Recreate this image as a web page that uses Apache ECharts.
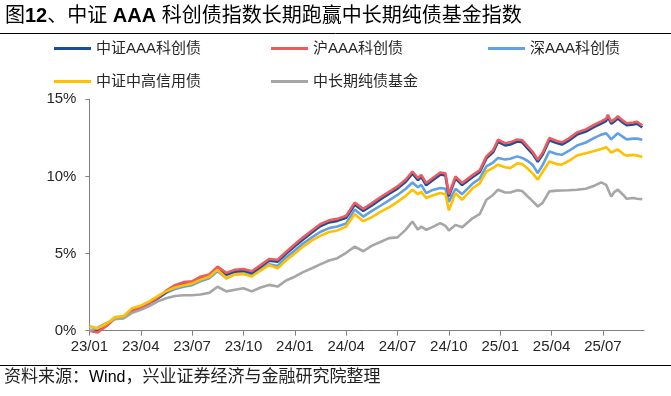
<!DOCTYPE html>
<html><head><meta charset="utf-8">
<script src="https://cdn.jsdelivr.net/npm/echarts@6/dist/echarts.min.js"></script>
<style>html,body{margin:0;padding:0;background:#fff}#c{width:671px;height:396px}</style>
</head><body><div id="c"></div>
<script>
const dates = ['2023-01-01','2023-01-16','2023-02-01','2023-02-15','2023-03-01','2023-03-16','2023-04-01','2023-04-16','2023-05-01','2023-05-16','2023-06-01','2023-06-16','2023-07-01','2023-07-16','2023-08-01','2023-08-16','2023-09-01','2023-09-16','2023-10-01','2023-10-16','2023-11-01','2023-11-16','2023-12-01','2023-12-16','2024-01-01','2024-01-16','2024-02-01','2024-02-15','2024-03-01','2024-03-16','2024-04-01','2024-04-16','2024-05-01','2024-05-16','2024-06-01','2024-06-16','2024-07-01','2024-07-16','2024-07-28','2024-08-07','2024-08-13','2024-08-22','2024-09-01','2024-09-16','2024-09-25','2024-10-01','2024-10-13','2024-10-25','2024-11-13','2024-11-25','2024-12-07','2024-12-19','2024-12-28','2025-01-10','2025-01-19','2025-02-01','2025-02-09','2025-02-18','2025-02-26','2025-03-07','2025-03-16','2025-03-28','2025-04-10','2025-04-19','2025-05-01','2025-05-16','2025-06-01','2025-06-16','2025-06-28','2025-07-07','2025-07-10','2025-07-16','2025-07-22','2025-07-28','2025-08-07','2025-08-13','2025-08-25','2025-09-01','2025-09-10'];
// 沪AAA科创债
const shAAA = [0.00,-0.12,0.30,0.80,0.85,1.30,1.50,1.80,2.15,2.60,2.95,3.15,3.20,3.50,3.65,4.15,3.75,3.95,4.00,3.85,4.25,4.65,4.60,5.10,5.60,6.05,6.50,6.90,7.15,7.25,7.45,8.30,7.90,8.25,8.65,9.00,9.35,9.80,10.32,9.90,10.10,9.57,9.85,10.26,10.20,8.85,10.00,9.57,10.10,10.40,11.30,11.70,12.38,12.15,12.21,12.40,12.35,11.95,11.60,11.08,11.55,12.49,12.30,12.21,12.45,12.85,13.05,13.35,13.57,13.75,14.00,13.55,13.70,13.90,13.60,13.45,13.50,13.55,13.30];
// 中证AAA科创债
const csAAA = [0.02,-0.05,0.35,0.80,0.86,1.30,1.49,1.78,2.10,2.50,2.85,3.05,3.10,3.40,3.55,4.03,3.63,3.83,3.88,3.73,4.13,4.53,4.48,4.98,5.48,5.92,6.37,6.77,7.02,7.12,7.32,8.16,7.76,8.11,8.51,8.86,9.21,9.66,10.18,9.76,9.96,9.43,9.71,10.12,10.06,8.72,9.87,9.44,9.97,10.27,11.17,11.56,12.24,12.01,12.07,12.26,12.21,11.81,11.46,10.95,11.42,12.35,12.16,12.07,12.31,12.71,12.91,13.21,13.43,13.61,13.85,13.42,13.57,13.76,13.47,13.32,13.37,13.42,13.18];
// 深AAA科创债
const szAAA = [0.05,0.05,0.40,0.82,0.90,1.35,1.52,1.82,2.10,2.45,2.70,2.85,2.95,3.20,3.40,3.85,3.40,3.65,3.70,3.55,3.95,4.30,4.20,4.75,5.20,5.65,6.05,6.40,6.65,6.75,6.95,7.85,7.40,7.75,8.10,8.45,8.80,9.20,9.61,9.30,9.45,8.92,9.10,9.25,9.20,8.35,9.20,8.85,9.55,9.85,10.65,10.90,11.20,11.10,11.15,11.30,11.20,11.00,10.75,10.22,10.75,11.62,11.45,11.40,11.65,12.00,12.20,12.50,12.71,12.80,12.82,12.40,12.60,12.80,12.55,12.40,12.45,12.45,12.38];
// 中证中高信用债
const csMidHigh = [0.30,0.15,0.45,0.88,0.95,1.45,1.62,1.90,2.25,2.55,2.80,2.95,3.05,3.30,3.50,3.95,3.40,3.65,3.68,3.52,3.90,4.25,4.05,4.55,5.00,5.45,5.85,6.15,6.40,6.50,6.75,7.55,7.10,7.35,7.70,8.00,8.35,8.75,9.14,8.85,9.00,8.60,8.75,8.92,8.85,7.80,8.92,8.49,9.25,9.55,10.32,10.55,10.76,10.60,10.54,10.85,10.80,10.50,10.20,9.79,10.30,10.97,10.80,10.76,11.00,11.35,11.50,11.65,11.78,11.90,11.91,11.55,11.65,11.75,11.45,11.35,11.40,11.35,11.26];
// 中长期纯债基金
const pureBondFund = [0.00,0.20,0.50,0.75,0.80,1.15,1.35,1.60,1.90,2.10,2.25,2.30,2.30,2.35,2.45,2.85,2.55,2.65,2.75,2.55,2.80,2.97,2.86,3.25,3.50,3.80,4.05,4.30,4.55,4.70,5.05,5.45,5.15,5.50,5.75,6.00,6.05,6.55,7.08,6.55,6.75,6.54,6.70,6.97,6.80,6.50,6.86,6.70,7.30,7.55,8.49,8.80,9.14,8.96,8.96,9.10,9.05,8.70,8.40,8.05,8.30,9.03,9.08,9.09,9.10,9.14,9.20,9.40,9.61,9.45,9.57,8.70,9.00,9.14,8.80,8.55,8.60,8.55,8.53];
const xTickLabels = ['23/01','23/04','23/07','23/10','24/01','24/04','24/07','24/10','25/01','25/04','25/07'];
const seriesNames = ['中证AAA科创债','沪AAA科创债','深AAA科创债','中证中高信用债','中长期纯债基金'];
const seriesColors = ['#1B4F93','#EE5A60','#62A0E4','#FFC000','#A6A6A6'];

function toMonths(s){const p=s.split('-').map(Number);const dim=new Date(p[0],p[1],0).getDate();return (p[0]-2023)*12+(p[1]-1)+(p[2]-1)/dim;}
const xs = dates.map(toMonths);
const pairs = arr => arr.map((v,i)=>[xs[i],v]);

const FONT = '"Liberation Sans", Arial, "Noto Sans CJK SC", sans-serif';
const chart = echarts.init(document.getElementById('c'), null, {renderer:'canvas'});
const valuesByName = {'中证AAA科创债':csAAA,'沪AAA科创债':shAAA,'深AAA科创债':szAAA,'中证中高信用债':csMidHigh,'中长期纯债基金':pureBondFund};
const drawOrder = ['深AAA科创债','中证AAA科创债','沪AAA科创债','中长期纯债基金','中证中高信用债'];
const legendBase = {orient:'vertical', top:41, padding:0, itemGap:18, itemWidth:37, itemHeight:3, icon:'rect', selectedMode:false,
  textStyle:{fontSize:15,color:'#262626',fontFamily:FONT}};
chart.setOption({
  animation:false,
  textStyle:{fontFamily:FONT},
  grid:{left:89.4,right:27,top:99.3,bottom:65.3,containLabel:false},
  legend:[
    Object.assign({left:54,data:['中证AAA科创债','中证中高信用债']},legendBase),
    Object.assign({left:271,data:['沪AAA科创债','中长期纯债基金']},legendBase),
    Object.assign({left:488,data:['深AAA科创债']},legendBase)
  ],
  xAxis:{type:'value',min:0,max:32.4,interval:3,
    axisLine:{lineStyle:{color:'#808080',width:1}},
    axisTick:{show:true,length:5,lineStyle:{color:'#808080'}},
    splitLine:{show:false},
    axisLabel:{margin:9,fontSize:15,color:'#262626',fontFamily:FONT,showMaxLabel:false,
      formatter:v=>{const i=Math.round(v/3);return (Math.abs(v-i*3)<1e-6&&xTickLabels[i])?xTickLabels[i]:'';}}},
  yAxis:{type:'value',min:0,max:15,interval:5,
    axisLine:{show:true,lineStyle:{color:'#808080',width:1}},
    axisTick:{show:true,length:4,lineStyle:{color:'#808080'}},
    splitLine:{show:false},
    axisLabel:{margin:13,fontSize:15,color:'#262626',fontFamily:FONT,formatter:v=>v+'%'}},
  series:drawOrder.map(n=>({name:n,type:'line',data:pairs(valuesByName[n]),showSymbol:false,symbol:'none',clip:false,
    lineStyle:{width:2.6,color:seriesColors[seriesNames.indexOf(n)]},itemStyle:{color:seriesColors[seriesNames.indexOf(n)]}})),
  graphic:[
    {type:'text',left:5,top:6,style:{text:'{n|图}{b|12}{n|、中证 }{b|AAA}{n| 科创债指数长期跑赢中长期纯债基金指数}',
      rich:{n:{fontSize:20,fontFamily:FONT,fill:'#000',fontWeight:'normal'},b:{fontSize:20,fontFamily:FONT,fill:'#000',fontWeight:'bold'}}}},
    {type:'line',shape:{x1:0,y1:33.5,x2:671,y2:33.5},style:{stroke:'#000',lineWidth:1}},
    {type:'line',shape:{x1:0,y1:365.5,x2:671,y2:365.5},style:{stroke:'#000',lineWidth:1}},
    {type:'text',left:4,top:369,style:{text:'{n|资料来源：}{w|Wind}{n|，兴业证券经济与金融研究院整理}',
      rich:{n:{fontSize:17,fontFamily:FONT,fill:'#222'},w:{fontSize:16,fontFamily:FONT,fill:'#000'}}}}
  ]
});
</script></body></html>
